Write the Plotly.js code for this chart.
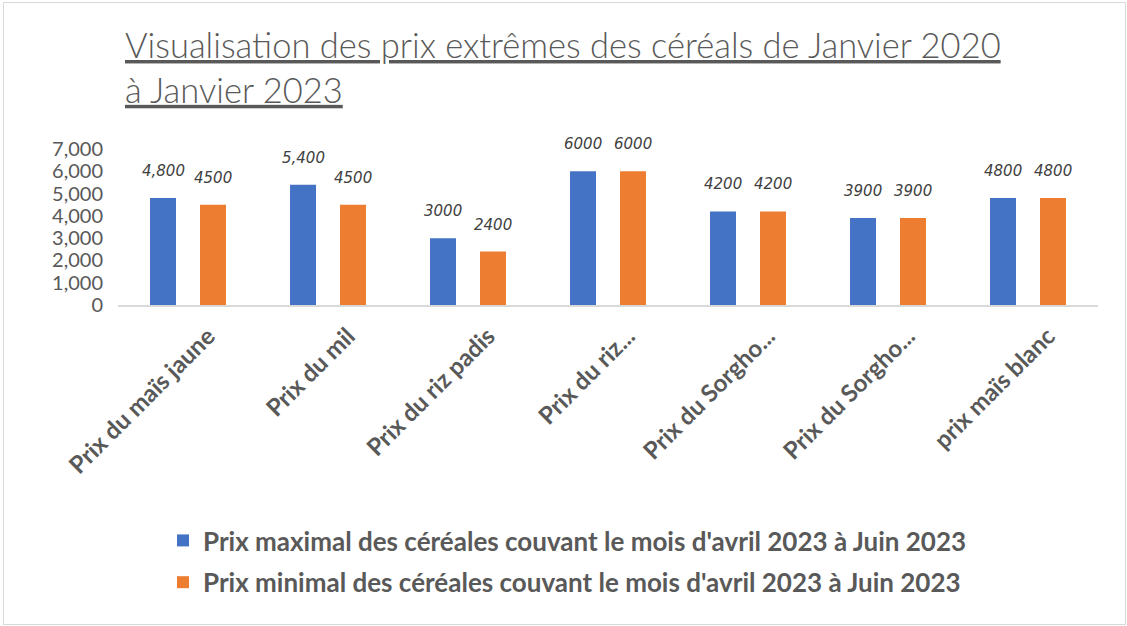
<!DOCTYPE html>
<html>
<head>
<meta charset="utf-8">
<script src="https://cdn.plot.ly/plotly-3.0.1.min.js"></script>
<style>
  html, body { margin:0; padding:0; background:#fff; }
  #plot { position:absolute; left:0; top:0; width:1127px; height:626px; }
  #frame { position:absolute; left:3px; top:2px; width:1121px; height:621px; border:1px solid #d9d9d9; pointer-events:none; }
</style>
</head>
<body>
<div id="plot"></div>
<div id="frame"></div>
<script>
const categories = ['maisJaune','mil','rizPadis','riz','sorgho1','sorgho2','maisBlanc'];
const tickLabels = ['Prix du maïs jaune','Prix du mil','Prix du riz padis','Prix du riz...','Prix du Sorgho...','Prix du Sorgho...','prix maïs blanc'];
const prixMax = [4800, 5400, 3000, 6000, 4200, 3900, 4800];
const prixMin = [4500, 4500, 2400, 6000, 4200, 3900, 4800];
const labelsMax = ['4,800','5,400','3000','6000','4200','3900','4800'];
const labelsMin = ['4500','4500','2400','6000','4200','3900','4800'];
const nameMax = "Prix maximal des céréales couvant le mois d'avril 2023 à Juin 2023";
const nameMin = "Prix minimal des céréales couvant le mois d'avril 2023 à Juin 2023";

const data = [
  { type:'bar', x:categories, y:prixMax, name:nameMax, legendgroup:'a',
    marker:{ color:'#4472C4' }, hoverinfo:'y' },
  { type:'bar', x:categories, y:prixMin, name:nameMin, legendgroup:'b',
    marker:{ color:'#ED7D31' }, hoverinfo:'y' }
];

// étiquettes de valeurs au-dessus des barres
const lblFont = { family:'DejaVu Sans', size:15, color:'#404040', style:'italic' };
const annotations = [];
categories.forEach((c, i) => {
  annotations.push({ x:c, y:prixMax[i], text:labelsMax[i], showarrow:false,
    xshift:-25, yshift:27, yanchor:'middle', font:lblFont });
  annotations.push({ x:c, y:prixMin[i], text:labelsMin[i], showarrow:false,
    xshift:25, yshift:27, yanchor:'middle', font:lblFont });
});

const layout = {
  width:1127, height:626,
  paper_bgcolor:'#fff', plot_bgcolor:'#fff',
  margin:{ l:118, r:29, t:149, b:321, autoexpand:false },
  title:{
    text:'<u>Visualisation des prix extrêmes des céréals de Janvier 2020</u><br><u>à Janvier 2023</u>',
    x:125/1127, xanchor:'left', xref:'container',
    y:1 - 58/626, yanchor:'top', yref:'container',
    font:{ family:'Lato', size:34.5, color:'#595959', weight:300 }
  },
  barmode:'group',
  bargap:0.286,
  bargroupgap:0.48,
  xaxis:{
    type:'category',
    tickvals:categories, ticktext:tickLabels,
    tickangle:-45,
    ticklabelshift:20, ticklabelstandoff:6,
    showline:true, linecolor:'#d9d9d9', linewidth:1.5,
    ticks:'', showgrid:false,
    tickfont:{ family:'Lato', size:24, color:'#595959', weight:'bold' }
  },
  yaxis:{
    range:[0, 7000], dtick:1000, tickformat:',',
    showgrid:false, zeroline:false, ticks:'',
    ticklabelstandoff:14,
    tickfont:{ family:'Lato', size:20, color:'#595959' }
  },
  showlegend:true,
  legend:{
    orientation:'v',
    x:(163 - 118) / 980, xanchor:'left',
    y:(305 - 517) / 156, yanchor:'top',
    traceorder:'grouped', tracegroupgap:5,
    font:{ family:'Lato', size:26, color:'#595959', weight:'bold' }
  },
  annotations:annotations
};

Plotly.newPlot('plot', data, layout, { displayModeBar:false, responsive:false });
</script>
</body>
</html>
